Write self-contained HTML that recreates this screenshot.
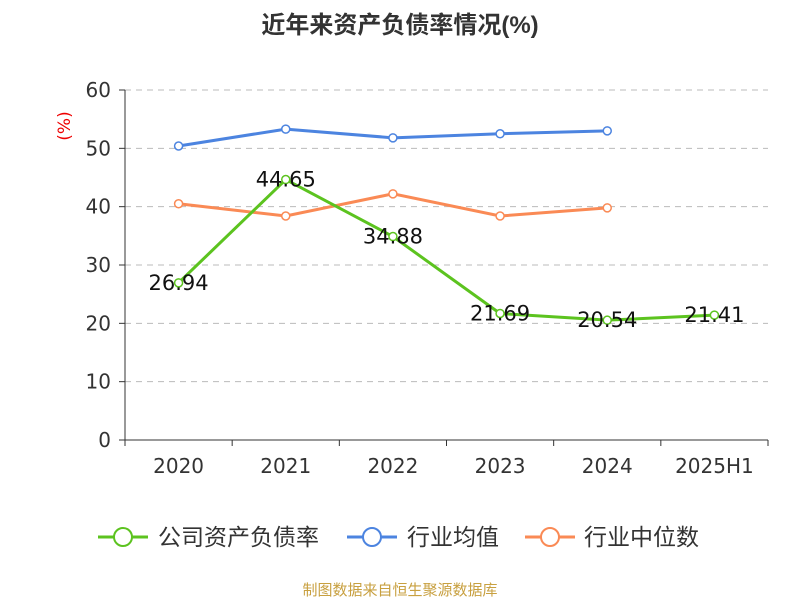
<!DOCTYPE html>
<html><head><meta charset="utf-8"><style>
body{margin:0;background:#fff;font-family:"Liberation Sans","Noto Sans CJK SC",sans-serif}
</style></head><body>
<svg width="800" height="600" xmlns="http://www.w3.org/2000/svg" font-family="Liberation Sans, Noto Sans CJK SC, sans-serif">
<text x="400" y="33" text-anchor="middle" font-size="24" font-weight="bold" fill="#333">近年来资产负债率情况(%)</text>
<text x="70" y="126" text-anchor="middle" font-size="17" fill="#e00" font-family="DejaVu Sans, sans-serif" transform="rotate(-90 70 126)">(%)</text>
<g id="grid"></g><g id="axes"></g><g id="series"></g>
<g>
<g><line x1="98" y1="537" x2="148" y2="537" stroke="#5cc31f" stroke-width="3"/><circle cx="123" cy="537" r="9" fill="#fff" stroke="#5cc31f" stroke-width="2"/><text x="158" y="545" font-size="23" fill="#333">公司资产负债率</text></g>
<g><line x1="347" y1="537" x2="397" y2="537" stroke="#4c84e0" stroke-width="3"/><circle cx="372" cy="537" r="9" fill="#fff" stroke="#4c84e0" stroke-width="2"/><text x="407" y="545" font-size="23" fill="#333">行业均值</text></g>
<g><line x1="525" y1="537" x2="575" y2="537" stroke="#fa8a55" stroke-width="3"/><circle cx="550" cy="537" r="9" fill="#fff" stroke="#fa8a55" stroke-width="2"/><text x="584" y="545" font-size="23" fill="#333">行业中位数</text></g>
</g>
<text x="400" y="595" text-anchor="middle" font-size="15" fill="#c8a040">制图数据来自恒生聚源数据库</text>
</svg>
<script>
const categories=["2020","2021","2022","2023","2024","2025H1"];
const company=[26.94,44.65,34.88,21.69,20.54,21.41];
const industryMean=[50.4,53.3,51.8,52.5,53.0];
const industryMedian=[40.5,38.4,42.2,38.4,39.8];
const yTicks=[0,10,20,30,40,50,60];
const NS="http://www.w3.org/2000/svg";
const NF="DejaVu Sans, sans-serif";
const x0=125,x1=768,yb=440,yt=90,ymax=60;
const bw=(x1-x0)/categories.length;
const X=i=>x0+bw*(i+0.5);
const Y=v=>yb-(v/ymax)*(yb-yt);
function mk(t,a,p){const e=document.createElementNS(NS,t);for(const k in a)e.setAttribute(k,a[k]);p.appendChild(e);return e;}
const grid=document.getElementById('grid'),axes=document.getElementById('axes'),ser=document.getElementById('series');
yTicks.forEach(v=>{
 if(v>0){const g=mk('line',{x1:x0,x2:x1,y1:Y(v),y2:Y(v),stroke:'#bbb','stroke-dasharray':'6,5'},grid);
 
 }
 mk('line',{x1:x0-6,x2:x0,y1:Y(v),y2:Y(v),stroke:'#333'},axes);
 const t=mk('text',{x:x0-14,y:Y(v)+7,'text-anchor':'end','font-size':20,fill:'#333','font-family':NF},axes);t.textContent=v;
 
 
});
mk('line',{x1:x0,x2:x0,y1:yt,y2:yb,stroke:'#333'},axes);
mk('line',{x1:x0,x2:x1,y1:yb,y2:yb,stroke:'#333'},axes);
for(let i=0;i<=categories.length;i++)mk('line',{x1:x0+bw*i,x2:x0+bw*i,y1:yb,y2:yb+6,stroke:'#333'},axes);
categories.forEach((c,i)=>{const t=mk('text',{x:X(i),y:473,'text-anchor':'middle','font-size':20,fill:'#333','font-family':NF},axes);t.textContent=c;
 
 });
function line(data,color,name,labels){
 const g=mk('g',{},ser);
 
 
 mk('polyline',{points:data.map((v,i)=>X(i)+','+Y(v)).join(' '),fill:'none',stroke:color,'stroke-width':3},g);
 data.forEach((v,i)=>{const c=mk('circle',{cx:X(i),cy:Y(v),r:4,fill:'#fff',stroke:color,'stroke-width':1.5},g);
  
  
  if(labels){const t=mk('text',{x:X(i),y:Y(v)+7,'text-anchor':'middle','font-size':21,fill:'#111','font-family':NF},g);t.textContent=v.toFixed(2);
  
  }
 });
}
line(industryMean,'#4c84e0','industry-mean-line',false);
line(industryMedian,'#fa8a55','industry-median-line',false);
line(company,'#5cc31f','company-line',true);
</script>
</body></html>
